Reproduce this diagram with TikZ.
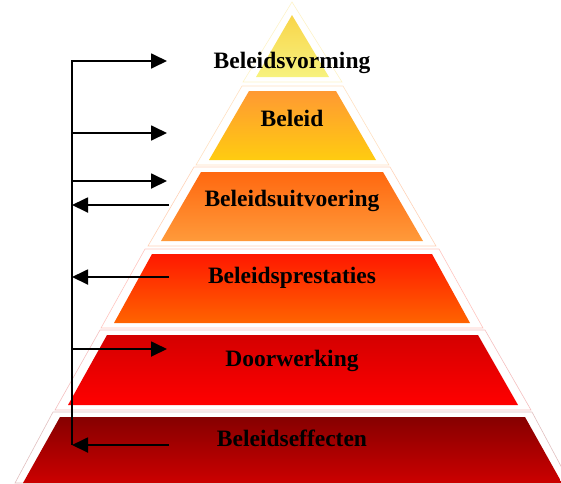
\documentclass[tikz,border=0pt]{standalone}
\usepackage{fontspec}
\setmainfont{Liberation Serif}
\usetikzlibrary{arrows.meta}

\definecolor{vormTop}{HTML}{F8D54A}
\definecolor{vormBot}{HTML}{F7F27E}
\definecolor{beleidTop}{HTML}{FF9933}
\definecolor{beleidBot}{HTML}{FFCC10}
\definecolor{uitvTop}{HTML}{FF6810}
\definecolor{uitvBot}{HTML}{FF9A3A}
\definecolor{prestTop}{HTML}{FF1800}
\definecolor{prestBot}{HTML}{FF6400}
\definecolor{doorTop}{HTML}{D40000}
\definecolor{doorBot}{HTML}{FF0000}
\definecolor{effTop}{HTML}{860000}
\definecolor{effBot}{HTML}{CC0000}

\tikzset{
        rim/.style={line width=0.6pt},
        lbl/.style={font=\fontsize{23.5}{28}\selectfont\bfseries, anchor=base, inner sep=0pt},
        arr/.style={line width=1.8pt, -{Triangle[length=16pt,width=15pt]}},
}

\begin{document}
\begin{tikzpicture}[x=1pt,y=-1pt]
        \useasboundingbox (0,0) rectangle (561,483);

        \draw[rim, vormTop!30] (292,2) -- (342,82) -- (243,82) -- cycle;
        \shade[top color=vormTop, bottom color=vormBot] (292,15) -- (329,77) -- (256,77) -- cycle;

        \draw[rim, beleidTop!30] (242,86) -- (343,86) -- (389,165) -- (196,165) -- cycle;
        \shade[top color=beleidTop, bottom color=beleidBot] (249,91) -- (336,91) -- (376,160) -- (209,160) -- cycle;

        \draw[rim, uitvTop!30] (194,167) -- (390,167) -- (436,246) -- (148,246) -- cycle;
        \shade[top color=uitvTop, bottom color=uitvBot] (201,172) -- (383,172) -- (423,241) -- (161,241) -- cycle;

        \draw[rim, prestTop!25] (145,249) -- (439,249) -- (483,328) -- (101,328) -- cycle;
        \shade[top color=prestTop, bottom color=prestBot] (152,254) -- (432,254) -- (470,323) -- (114,323) -- cycle;

        \draw[rim, doorTop!25] (100,330) -- (485,330) -- (531,410) -- (55,410) -- cycle;
        \shade[top color=doorTop, bottom color=doorBot] (107,335) -- (478,335) -- (518,405) -- (68,405) -- cycle;

        \draw[rim, effTop!25] (53,412) -- (532,412) -- (570,483) -- (15,483) -- cycle;
        \shade[top color=effTop, bottom color=effBot] (60,417) -- (525,417) -- (562,483) -- (23,483) -- cycle;

        \node[lbl] (vorming) at (292,68) {Beleidsvorming};
        \node[lbl] (beleid) at (292,126) {Beleid};
        \node[lbl] (uitvoering) at (292,206) {Beleidsuitvoering};
        \node[lbl] (prestaties) at (292,283) {Beleidsprestaties};
        \node[lbl] (doorwerking) at (292,366) {Doorwerking};
        \node[lbl] (effecten) at (292,446) {Beleidseffecten};

        \coordinate (a1) at (72,61);
        \coordinate (b1) at (167,61);
        \coordinate (a2) at (72,133);
        \coordinate (b2) at (167,133);
        \coordinate (a3) at (72,181);
        \coordinate (b3) at (167,181);
        \coordinate (a4) at (169,205);
        \coordinate (b4) at (72,205);
        \coordinate (a5) at (169,277);
        \coordinate (b5) at (72,277);
        \coordinate (a6) at (72,349);
        \coordinate (b6) at (167,349);
        \coordinate (a7) at (169,445);
        \coordinate (b7) at (72,445);

        \draw[arr] (b7) -- (a1) -- (b1);
        \draw[arr] (a2) -- (b2);
        \draw[arr] (a3) -- (b3);
        \draw[arr] (a4) -- (b4);
        \draw[arr] (a5) -- (b5);
        \draw[arr] (a6) -- (b6);
        \draw[arr] (a7) -- (b7);
\end{tikzpicture}
\end{document}
